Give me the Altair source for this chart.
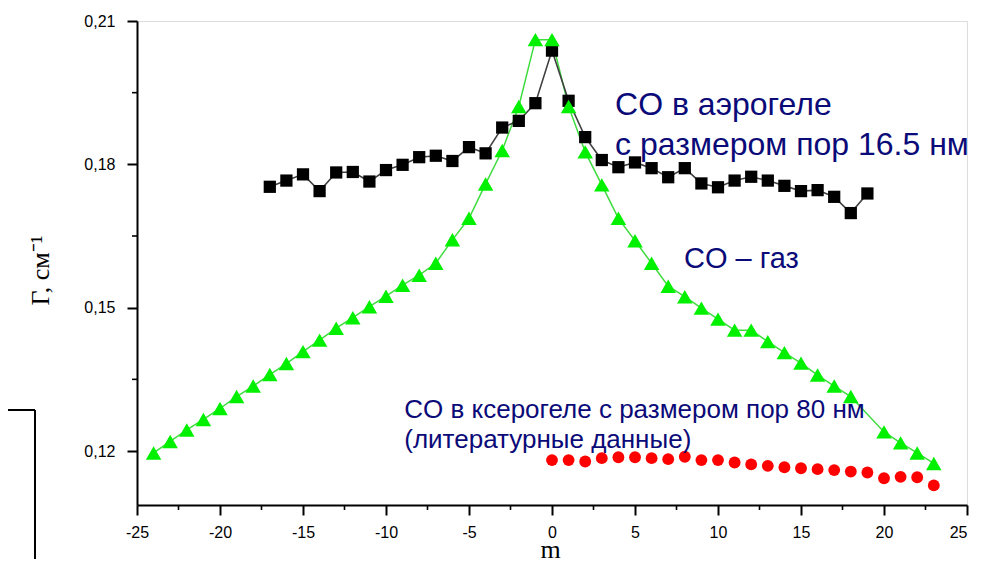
import altair as alt
import pandas as pd

# ---- data ----
m_aero = list(range(-17, 20))
g_aero = [0.1753, 0.1766, 0.1779, 0.1744, 0.1783, 0.1784, 0.1764, 0.1788, 0.1799,
          0.1815, 0.1818, 0.1807, 0.1836, 0.1823, 0.1877, 0.1891, 0.1928, 0.2038,
          0.1933, 0.1857, 0.1809, 0.1794, 0.1804, 0.1792, 0.1773, 0.1792, 0.1760,
          0.1752, 0.1766, 0.1774, 0.1766, 0.1755, 0.1744, 0.1746, 0.1732, 0.1698, 0.1739]

m_gas = list(range(-24, 19)) + [20, 21, 22, 23]
g_gas = [0.1196, 0.1220, 0.1244, 0.1266, 0.1289, 0.1314, 0.1336, 0.1360, 0.1383,
         0.1408, 0.1432, 0.1457, 0.1479, 0.1502, 0.1524, 0.1547, 0.1568, 0.1593,
         0.1642, 0.1687, 0.1759, 0.1829, 0.1921, 0.2061, 0.2061,
         0.1921, 0.1826, 0.1757, 0.1687, 0.1640, 0.1593, 0.1545, 0.1523, 0.1499,
         0.1476, 0.1453, 0.1453, 0.1429, 0.1406, 0.1384, 0.1359, 0.1336, 0.1314,
         0.1240, 0.1217, 0.1196, 0.1174]

m_xero = list(range(0, 24))
g_xero = [0.1181, 0.1181, 0.1178, 0.1185, 0.1187, 0.1187, 0.1185, 0.1183, 0.1188,
          0.1181, 0.1181, 0.1176, 0.1172, 0.1169, 0.1166, 0.1164, 0.1162, 0.1160,
          0.1157, 0.1155, 0.1143, 0.1146, 0.1145, 0.1128]

x_major = [-25, -20, -15, -10, -5, 0, 5, 10, 15, 20, 25]
x_minor = [-22.5, -17.5, -12.5, -7.5, -2.5, 2.5, 7.5, 12.5, 17.5, 22.5]
y_major = [0.12, 0.15, 0.18, 0.21]
y_minor = [0.135, 0.165, 0.195]

x_title = "m"
y_title = "Г, см⁻¹"
label_aero = ["CO в аэрогеле", "с размером пор 16.5 нм"]
label_gas = ["CO – газ"]
label_xero = ["CO в ксерогеле с размером пор 80 нм", "(литературные данные)"]

# anchors of the annotations, in data units (m, Γ)
aero_m = [3.8, 3.8]
aero_g = [0.1903, 0.1820]
gas_m = [7.95]
gas_g = [0.1583]
xero_m = [-8.9, -8.9]
xero_g = [0.1269, 0.1206]

df_aero = pd.DataFrame({"m": m_aero, "g": g_aero})
df_gas = pd.DataFrame({"m": m_gas, "g": g_gas})
df_xero = pd.DataFrame({"m": m_xero, "g": g_xero})
df_xminor = pd.DataFrame({"m": x_minor})
df_yminor = pd.DataFrame({"g": y_minor})
df_one = pd.DataFrame({"k": [0]})

W, H = 830, 484
NAVY = "#0a0a78"

xs = alt.Scale(domain=[-25, 25], nice=False, zero=False)
ys = alt.Scale(domain=[0.1087, 0.21], nice=False, zero=False)

x_axis = alt.Axis(values=x_major, title=x_title, grid=False, tickSize=10, tickWidth=2,
                  domainWidth=2, domainColor="black", tickColor="black",
                  labelFont="Liberation Sans", labelFontSize=16, labelColor="black",
                  labelPadding=9, labelFlush=False, labelOverlap=False,
                  labelAlign={"condition": {"test": "datum.value == 25", "value": "right"},
                              "value": "center"},
                  labelExpr="datum.value < 0 ? '-' + abs(datum.value) : '' + datum.value",
                  titleFont="Liberation Serif", titleFontSize=26, titleFontWeight="normal",
                  titleColor="black", titleX=413, titleY=52, titleBaseline="alphabetic",
                  titleAlign="center")
y_axis = alt.Axis(values=y_major, title=y_title, grid=False, tickSize=10, tickWidth=2,
                  domainWidth=2, domainColor="black", tickColor="black",
                  labelFont="Liberation Sans", labelFontSize=16, labelColor="black",
                  labelPadding=12, labelFlush=False,
                  labelExpr="replace(format(datum.value, '.2f'), '.', ',')",
                  titleFont="Liberation Serif", titleFontSize=26, titleFontWeight="normal",
                  titleColor="black", titleAngle=270, titleX=-97, titleY=249,
                  titleAlign="center", titleBaseline="middle")

X = alt.X("m:Q", scale=xs, axis=x_axis)
Y = alt.Y("g:Q", scale=ys, axis=y_axis)

gas_line = alt.Chart(df_gas).mark_line(color="#3fdc3f", strokeWidth=1.5).encode(x=X, y=Y)
aero_line = alt.Chart(df_aero).mark_line(color="#404040", strokeWidth=1.6).encode(x=X, y=Y)
aero_pts = alt.Chart(df_aero).mark_point(shape="square", filled=True, size=150, color="black",
                                        opacity=1).encode(x=X, y=Y)
gas_pts = alt.Chart(df_gas).mark_point(shape="triangle-up", filled=True, size=240,
                                      color="#00f000", opacity=1).encode(x=X, y=Y)
xero_pts = alt.Chart(df_xero).mark_point(shape="circle", filled=True, size=140,
                                        color="#ff0000", opacity=1).encode(x=X, y=Y)

x_minor_ticks = alt.Chart(df_xminor).mark_rule(color="black", strokeWidth=1.6).encode(
    x=X, y=alt.value(H), y2=alt.value(H + 5))
y_minor_ticks = alt.Chart(df_yminor).mark_rule(color="black", strokeWidth=1.6).encode(
    y=Y, x=alt.value(-5), x2=alt.value(0))


def txt(labels, ms, gs, fs):
    d = pd.DataFrame({"t": labels, "m": ms, "g": gs})
    return alt.Chart(d).mark_text(
        align="left", baseline="alphabetic", font="Liberation Sans",
        fontSize=fs, color=NAVY).encode(x=X, y=Y, text="t:N")


texts = [
    txt(label_aero, aero_m, aero_g, 32),
    txt(label_gas, gas_m, gas_g, 29),
    txt(label_xero, xero_m, xero_g, 26),
]

# frame fragment at the left edge of the picture
box_h = alt.Chart(df_one).mark_rule(color="black", strokeWidth=2).encode(
    x=alt.value(-129), x2=alt.value(-102), y=alt.value(389))
box_v = alt.Chart(df_one).mark_rule(color="black", strokeWidth=2).encode(
    x=alt.value(-102), y=alt.value(389), y2=alt.value(H + 60))

chart = alt.layer(
    gas_line, aero_line, aero_pts, gas_pts, xero_pts,
    x_minor_ticks, y_minor_ticks, *texts, box_h, box_v
).properties(
    width=W, height=H,
    autosize=alt.AutoSizeParams(type="none"),
    padding={"left": 129, "top": 13, "right": 7, "bottom": 54},
).configure_view(stroke=None).configure(background="white")

chart.save("out.html", embed_options={"renderer": "svg", "actions": False})
